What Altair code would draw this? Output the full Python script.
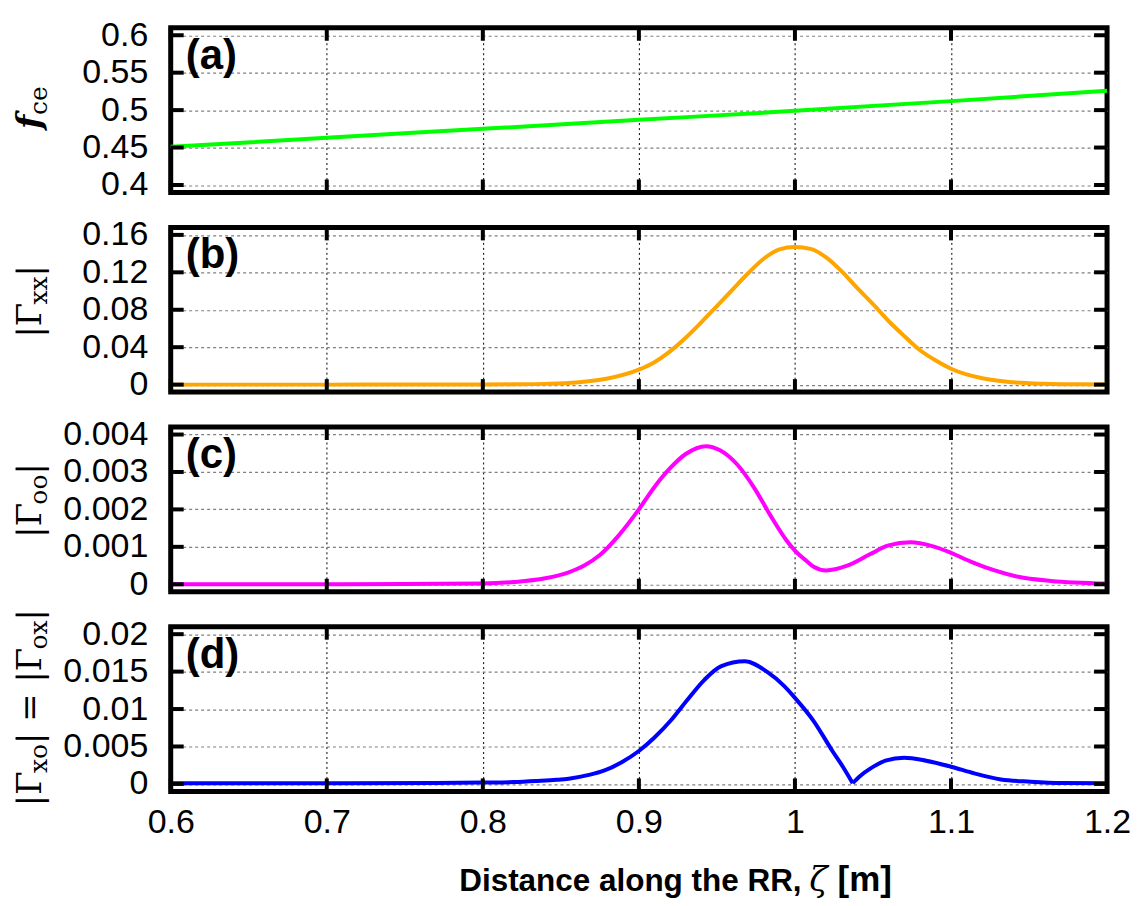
import altair as alt
import pandas as pd

# ---------------- data ----------------
x_ticks = [0.6, 0.7, 0.8, 0.9, 1.0, 1.1, 1.2]

# (a) f_ce
fce_x = [0.6, 0.7, 0.8, 0.9, 1.0, 1.1, 1.2]
fce_y = [0.451, 0.463, 0.475, 0.487, 0.499, 0.512, 0.526]

# (b) |Gamma_xx|
gxx_x = [0.6, 0.7, 0.75, 0.8, 0.82, 0.84, 0.86, 0.88, 0.9, 0.91, 0.92, 0.93, 0.94,
         0.95, 0.96, 0.97, 0.98, 0.99, 1.0, 1.01, 1.02, 1.03, 1.04, 1.05, 1.06, 1.07,
         1.08, 1.09, 1.1, 1.12, 1.14, 1.16, 1.18, 1.2]
gxx_y = [0.0, 0.0, 0.00005, 0.0001, 0.0003, 0.0008, 0.0023, 0.0065, 0.016, 0.024, 0.0355, 0.05, 0.0665,
         0.084, 0.1015, 0.119, 0.1345, 0.1445, 0.147, 0.145, 0.136, 0.121, 0.103, 0.086, 0.068, 0.052,
         0.037, 0.026, 0.017, 0.0068, 0.0025, 0.0009, 0.0003, 0.0001]

# (c) |Gamma_oo|
goo_x = [0.6, 0.7, 0.75, 0.8, 0.82, 0.84, 0.855, 0.865, 0.875, 0.887, 0.9, 0.91, 0.92, 0.93,
         0.943, 0.952, 0.963, 0.974, 0.984, 0.995, 1.0, 1.0075, 1.012, 1.02, 1.033, 1.048,
         1.06, 1.074, 1.088, 1.1, 1.113, 1.128, 1.143, 1.164, 1.2]
goo_y = [0.0, 0.0, 0.00001, 0.00002, 0.00006, 0.00016, 0.00032, 0.0005, 0.00078, 0.0013, 0.002, 0.0026, 0.0031, 0.00348,
         0.00369, 0.00358, 0.0032, 0.00257, 0.00186, 0.00115, 0.0009, 0.00062, 0.00047, 0.00037, 0.00049, 0.0008,
         0.00104, 0.00112, 0.00102, 0.00084, 0.0006, 0.00037, 0.0002, 0.00009, 0.00002]

# (d) |Gamma_xo| = |Gamma_ox|  (two branches meeting at the cusp)
gxo_x1 = [0.6, 0.7, 0.77, 0.8, 0.82, 0.835, 0.847, 0.855, 0.868, 0.878, 0.889, 0.9, 0.91, 0.921,
          0.931, 0.942, 0.9525, 0.968, 0.982, 0.993, 1.0, 1.012, 1.024, 1.031, 1.037]
gxo_y1 = [0.0001, 0.0001, 0.00012, 0.00018, 0.00025, 0.0004, 0.00055, 0.0007, 0.0012, 0.0018, 0.0029, 0.0044, 0.0062, 0.0086,
          0.0112, 0.0139, 0.0157, 0.0164, 0.015, 0.0131, 0.0115, 0.0084, 0.0044, 0.0022, 0.0001]
gxo_x2 = [1.037, 1.042, 1.048, 1.058, 1.07, 1.084, 1.1, 1.115, 1.132, 1.151, 1.172, 1.2]
gxo_y2 = [0.0001, 0.0011, 0.002, 0.0031, 0.0035, 0.0031, 0.0023, 0.0014, 0.0006, 0.0003, 0.00012, 0.00008]

yt_a = [0.4, 0.45, 0.5, 0.55, 0.6]
yt_b = [0, 0.04, 0.08, 0.12, 0.16]
yt_c = [0, 0.001, 0.002, 0.003, 0.004]
yt_d = [0, 0.005, 0.01, 0.015, 0.02]

# ---------------- styling ----------------
W, H = 938, 165
TICK = 13
SANS = "Liberation Sans"
SERIF = "DejaVu Serif"
LBL = 34
XS = alt.Scale(domain=[0.6, 1.2], nice=False, zero=False)
dummy = pd.DataFrame({"a": [0]})

CW = {"|": 0.337, "Γ": 0.637, "x": 0.564, "o": 0.602, "=": 0.838, " ": 0.318,
      "f": 0.42, "c": 0.56, "e": 0.592}


def ytitle(segments, yc, xb=-130.0, main=34, sub=25, drop=6):
    items, total = [], 0.0
    for t, role in segments:
        fs = sub if role == "sub" else (main - 1 if role == "ital" else main)
        w = sum(CW.get(ch, 0.6) for ch in t) * fs
        items.append((t, role, fs, w))
        total += w
    y = yc + total / 2
    out = []
    for t, role, fs, w in items:
        out.append(alt.Chart(dummy).mark_text(
            text=t, angle=270, align="left", baseline="alphabetic", font=SERIF,
            fontSize=fs, fontStyle="italic" if role == "ital" else "normal",
            fontWeight="bold" if role == "ital" else "normal", color="black"
        ).encode(x=alt.value(xb + (drop if role == "sub" else 0)), y=alt.value(y)))
        y -= w
    return out


def panel(df, color, ydom, yticks, label, title_segments, title_yc, last=False, detail=False):
    ys = alt.Scale(domain=ydom, nice=False, zero=False)
    yaxis = alt.Axis(values=yticks, format="~g", title=None, grid=True, gridColor="#808080",
                     gridDash=[3, 3], gridWidth=1.2, domain=False, ticks=False,
                     labelFont=SANS, labelFontSize=LBL, labelPadding=23, labelColor="black",
                     labelOverlap=False)
    if last:
        xaxis = alt.Axis(values=x_ticks, format="~g", title=None, grid=True, gridColor="black",
                         gridDash=[2, 3], gridWidth=1, domain=False, ticks=False,
                         labelFont=SANS, labelFontSize=LBL, labelPadding=14, labelColor="black",
                         labelFlush=False, labelOverlap=False)
    else:
        xaxis = alt.Axis(values=x_ticks, labels=False, title=None, grid=True, gridColor="black",
                         gridDash=[2, 3], gridWidth=1, domain=False, ticks=False)
    enc = dict(x=alt.X("x:Q", scale=XS, axis=xaxis), y=alt.Y("y:Q", scale=ys, axis=yaxis))
    if detail:
        enc["detail"] = alt.Detail("seg:N")
    line = alt.Chart(df).mark_line(color=color, strokeWidth=4, interpolate="monotone").encode(**enc)

    ydf = pd.DataFrame({"y": yticks})
    xdf = pd.DataFrame({"x": x_ticks})
    rule = dict(color="black", strokeWidth=4)
    yl = alt.Chart(ydf).mark_rule(**rule).encode(
        y=alt.Y("y:Q", scale=ys, axis=yaxis), x=alt.value(0), x2=alt.value(TICK))
    yr = alt.Chart(ydf).mark_rule(**rule).encode(
        y=alt.Y("y:Q", scale=ys, axis=yaxis), x=alt.value(W - TICK), x2=alt.value(W))
    xt = alt.Chart(xdf).mark_rule(**rule).encode(
        x=alt.X("x:Q", scale=XS, axis=xaxis), y=alt.value(0), y2=alt.value(TICK))
    xb = alt.Chart(xdf).mark_rule(**rule).encode(
        x=alt.X("x:Q", scale=XS, axis=xaxis), y=alt.value(H - TICK), y2=alt.value(H))

    lab = alt.Chart(dummy).mark_text(
        text=label, font=SANS, fontSize=42, fontWeight="bold", align="left",
        baseline="alphabetic", color="black").encode(x=alt.value(15), y=alt.value(41))

    layers = [line, yl, yr, xt, xb, lab] + ytitle(title_segments, title_yc)
    if last:
        t1 = alt.Chart(dummy).mark_text(
            text="Distance along the RR,", font=SANS, fontSize=31.5, fontWeight="bold",
            align="right", baseline="alphabetic", color="black").encode(
            x=alt.value(632), y=alt.value(265))
        t2 = alt.Chart(dummy).mark_text(
            text="ζ", font=SERIF, fontSize=34, fontStyle="italic",
            align="center", baseline="alphabetic", color="black").encode(
            x=alt.value(649), y=alt.value(265))
        t3 = alt.Chart(dummy).mark_text(
            text="[m]", font=SANS, fontSize=35, fontWeight="bold",
            align="left", baseline="alphabetic", color="black").encode(
            x=alt.value(668), y=alt.value(265))
        layers += [t1, t2, t3]
    return alt.layer(*layers).properties(width=W, height=H)


df_a = pd.DataFrame({"x": fce_x, "y": fce_y})
df_b = pd.DataFrame({"x": gxx_x, "y": gxx_y})
df_c = pd.DataFrame({"x": goo_x, "y": goo_y})
df_d = pd.DataFrame({"x": gxo_x1 + gxo_x2, "y": gxo_y1 + gxo_y2,
                     "seg": ["l"] * len(gxo_x1) + ["r"] * len(gxo_x2)})

pa = panel(df_a, "#00ff00", [0.39, 0.61], yt_a, "(a)", [("f", "ital"), ("ce", "sub")], 80)
pb = panel(df_b, "#ffa500", [-0.008, 0.168], yt_b, "(b)",
           [("|Γ", "main"), ("xx", "sub"), ("|", "main")], 74)
pc = panel(df_c, "#ff00ff", [-0.0002, 0.0042], yt_c, "(c)",
           [("|Γ", "main"), ("oo", "sub"), ("|", "main")], 73.5)
pd_ = panel(df_d, "#0000ff", [-0.001, 0.021], yt_d, "(d)",
            [("|Γ", "main"), ("xo", "sub"), ("| = |Γ", "main"), ("ox", "sub"), ("|", "main")],
            81, last=True, detail=True)

chart = alt.vconcat(pa, pb, pc, pd_, spacing=35, bounds="flush").configure_view(
    stroke="black", strokeWidth=5
).properties(
    padding={"left": 3, "top": 7, "right": 0, "bottom": 2},
    background="white",
)

chart.save("out.html", embed_options={"renderer": "svg", "actions": False})
